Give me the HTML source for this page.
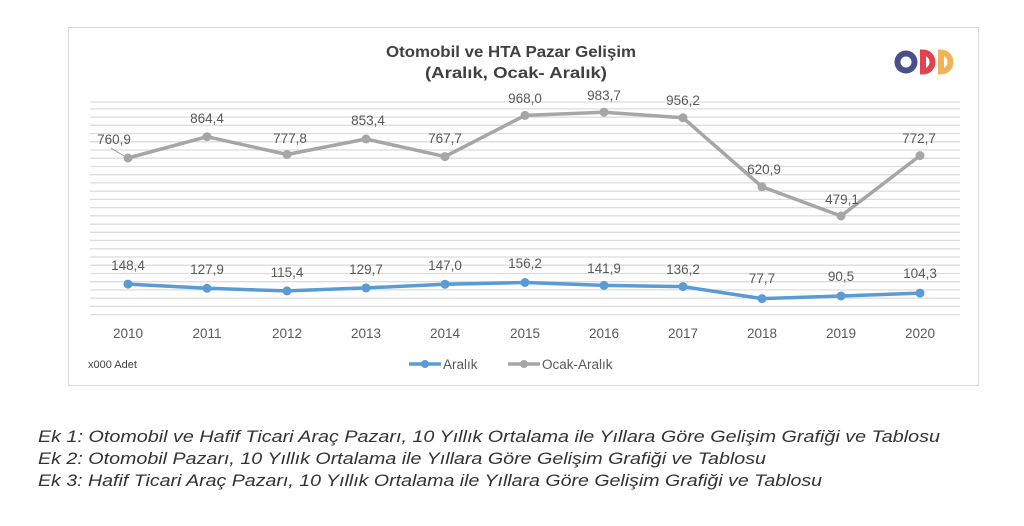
<!DOCTYPE html>
<html><head><meta charset="utf-8"><style>
html,body{margin:0;padding:0;background:#fff;}
svg{display:block;font-family:"Liberation Sans",sans-serif;}
</style></head><body>
<svg width="1024" height="526" viewBox="0 0 1024 526" xmlns="http://www.w3.org/2000/svg">
<rect x="0" y="0" width="1024" height="526" fill="#fff"/>
<rect x="68.5" y="27.5" width="910" height="358" fill="#fff" stroke="#d9d9d9" stroke-width="1"/>
<g stroke="#dcdcdc" stroke-width="1.3">
<line x1="90" x2="960" y1="314.6" y2="314.6"/>
<line x1="90" x2="960" y1="306.4" y2="306.4"/>
<line x1="90" x2="960" y1="298.1" y2="298.1"/>
<line x1="90" x2="960" y1="289.9" y2="289.9"/>
<line x1="90" x2="960" y1="281.7" y2="281.7"/>
<line x1="90" x2="960" y1="273.5" y2="273.5"/>
<line x1="90" x2="960" y1="265.2" y2="265.2"/>
<line x1="90" x2="960" y1="257.0" y2="257.0"/>
<line x1="90" x2="960" y1="248.8" y2="248.8"/>
<line x1="90" x2="960" y1="240.5" y2="240.5"/>
<line x1="90" x2="960" y1="232.3" y2="232.3"/>
<line x1="90" x2="960" y1="224.1" y2="224.1"/>
<line x1="90" x2="960" y1="215.8" y2="215.8"/>
<line x1="90" x2="960" y1="207.6" y2="207.6"/>
<line x1="90" x2="960" y1="199.4" y2="199.4"/>
<line x1="90" x2="960" y1="191.2" y2="191.2"/>
<line x1="90" x2="960" y1="182.9" y2="182.9"/>
<line x1="90" x2="960" y1="174.7" y2="174.7"/>
<line x1="90" x2="960" y1="166.5" y2="166.5"/>
<line x1="90" x2="960" y1="158.2" y2="158.2"/>
<line x1="90" x2="960" y1="150.0" y2="150.0"/>
<line x1="90" x2="960" y1="141.8" y2="141.8"/>
<line x1="90" x2="960" y1="133.5" y2="133.5"/>
<line x1="90" x2="960" y1="125.3" y2="125.3"/>
<line x1="90" x2="960" y1="117.1" y2="117.1"/>
<line x1="90" x2="960" y1="108.9" y2="108.9"/>
<line x1="90" x2="960" y1="102.0" y2="102.0"/>
</g>
<g font-weight="bold" fill="#404040" font-size="16" text-anchor="middle">
<text x="511" y="57" textLength="250" lengthAdjust="spacingAndGlyphs">Otomobil ve HTA Pazar Gelişim</text>
<text x="516" y="78" textLength="182" lengthAdjust="spacingAndGlyphs">(Aralık, Ocak- Aralık)</text>
</g>
<g>
<circle cx="906" cy="62" r="8.5" fill="none" stroke="#4a4f8c" stroke-width="6"/>
<path d="M923 52.5 a9.5 9.5 0 0 1 0 19 z" fill="none" stroke="#e0434f" stroke-width="6"/>
<path d="M941 52.5 a9.5 9.5 0 0 1 0 19 z" fill="none" stroke="#f0b35a" stroke-width="6"/>
</g>
<line x1="111" y1="148" x2="124" y2="156" stroke="#999" stroke-width="1"/>
<polyline fill="none" stroke="#a6a6a6" stroke-width="3.5" stroke-linejoin="round" points="128,158 207,136.7 287,154.5 366,139 445,156.6 525,115.4 604,112.2 683,117.8 762,186.8 841,216 920,155.6"/>
<g fill="#a6a6a6">
<circle cx="128" cy="158" r="4.5"/><circle cx="207" cy="136.7" r="4.5"/><circle cx="287" cy="154.5" r="4.5"/><circle cx="366" cy="139" r="4.5"/><circle cx="445" cy="156.6" r="4.5"/><circle cx="525" cy="115.4" r="4.5"/><circle cx="604" cy="112.2" r="4.5"/><circle cx="683" cy="117.8" r="4.5"/><circle cx="762" cy="186.8" r="4.5"/><circle cx="841" cy="216" r="4.5"/><circle cx="920" cy="155.6" r="4.5"/>
</g>
<polyline fill="none" stroke="#5b9bd5" stroke-width="3.5" stroke-linejoin="round" points="128,284.1 207,288.3 287,290.9 366,287.9 445,284.3 525,282.5 604,285.4 683,286.6 762,298.6 841,296 920,293.1"/>
<g fill="#5b9bd5">
<circle cx="128" cy="284.1" r="4.5"/><circle cx="207" cy="288.3" r="4.5"/><circle cx="287" cy="290.9" r="4.5"/><circle cx="366" cy="287.9" r="4.5"/><circle cx="445" cy="284.3" r="4.5"/><circle cx="525" cy="282.5" r="4.5"/><circle cx="604" cy="285.4" r="4.5"/><circle cx="683" cy="286.6" r="4.5"/><circle cx="762" cy="298.6" r="4.5"/><circle cx="841" cy="296" r="4.5"/><circle cx="920" cy="293.1" r="4.5"/>
</g>
<g font-size="13.5" fill="#595959" text-anchor="middle">
<text x="114" y="144">760,9</text>
<text x="207" y="123">864,4</text>
<text x="290" y="143">777,8</text>
<text x="368" y="125">853,4</text>
<text x="445" y="143">767,7</text>
<text x="525" y="103">968,0</text>
<text x="604" y="100">983,7</text>
<text x="683" y="105">956,2</text>
<text x="764" y="174">620,9</text>
<text x="842" y="204">479,1</text>
<text x="919" y="143">772,7</text>
<text x="128" y="270">148,4</text>
<text x="207" y="274">127,9</text>
<text x="287" y="277">115,4</text>
<text x="366" y="274">129,7</text>
<text x="445" y="270">147,0</text>
<text x="525" y="268">156,2</text>
<text x="604" y="273">141,9</text>
<text x="683" y="274">136,2</text>
<text x="762" y="283">77,7</text>
<text x="841" y="281">90,5</text>
<text x="920" y="278">104,3</text>
</g>
<g font-size="13.5" fill="#595959" text-anchor="middle">
<text x="128" y="338">2010</text><text x="207" y="338">2011</text><text x="287" y="338">2012</text><text x="366" y="338">2013</text><text x="445" y="338">2014</text><text x="525" y="338">2015</text><text x="604" y="338">2016</text><text x="683" y="338">2017</text><text x="762" y="338">2018</text><text x="841" y="338">2019</text><text x="920" y="338">2020</text>
</g>
<text x="88" y="368" font-size="11" fill="#404040">x000 Adet</text>
<line x1="409" y1="364" x2="441" y2="364" stroke="#5b9bd5" stroke-width="3.5"/>
<circle cx="425" cy="364" r="4" fill="#5b9bd5"/>
<text x="443" y="369" font-size="13.5" fill="#595959">Aralık</text>
<line x1="508" y1="364" x2="540" y2="364" stroke="#a6a6a6" stroke-width="3.5"/>
<circle cx="524" cy="364" r="4" fill="#a6a6a6"/>
<text x="542" y="369" font-size="13.5" fill="#595959">Ocak-Aralık</text>
<g font-size="16.5" font-style="italic" fill="#333">
<text x="38" y="442" textLength="902" lengthAdjust="spacingAndGlyphs">Ek 1: Otomobil ve Hafif Ticari Araç Pazarı, 10 Yıllık Ortalama ile Yıllara Göre Gelişim Grafiği ve Tablosu</text>
<text x="38" y="464" textLength="728" lengthAdjust="spacingAndGlyphs">Ek 2: Otomobil Pazarı, 10 Yıllık Ortalama ile Yıllara Göre Gelişim Grafiği ve Tablosu</text>
<text x="38" y="486" textLength="784" lengthAdjust="spacingAndGlyphs">Ek 3: Hafif Ticari Araç Pazarı, 10 Yıllık Ortalama ile Yıllara Göre Gelişim Grafiği ve Tablosu</text>
</g>
</svg>
</body></html>
